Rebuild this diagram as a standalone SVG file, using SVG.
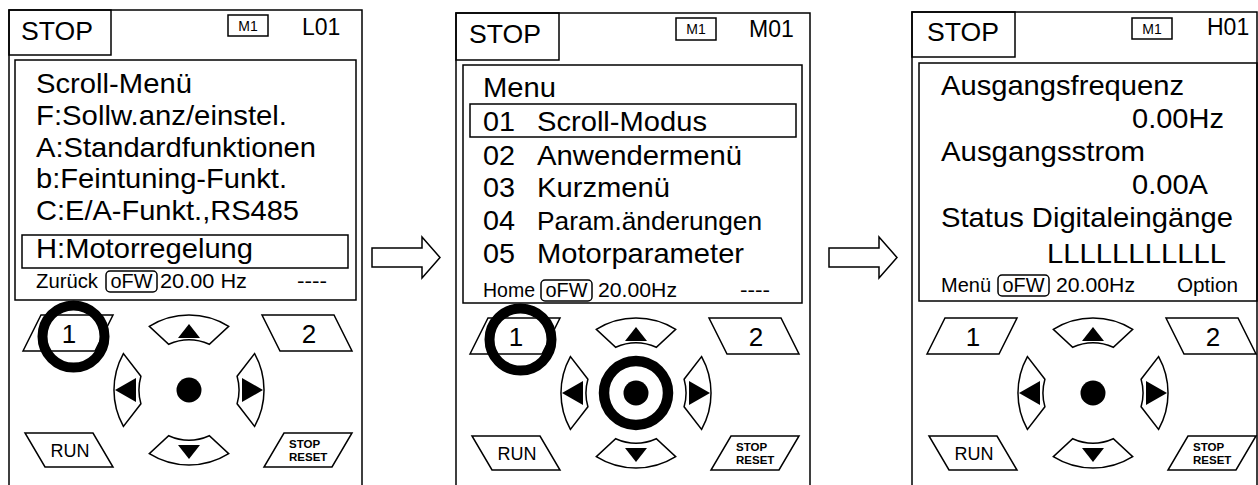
<svg xmlns="http://www.w3.org/2000/svg" width="1258" height="485" viewBox="0 0 1258 485">
<style>
.ln{fill:none;stroke:#000;stroke-width:1.5}
.bx{fill:#fff;stroke:#000;stroke-width:1.5}
.tx{font-family:"Liberation Sans",Arial,Helvetica,sans-serif;fill:#000}
.hd{font-size:26px}
.id{font-size:23px}
.m1{font-size:14px}
.sc{font-size:28px}
.sm{font-size:25px}
.ft{font-size:20px}
.key{font-size:26px}
.run{font-size:18px}
.sr{font-size:11.5px;font-weight:bold}
.ring{fill:none;stroke:#000;stroke-width:10}
.dot{fill:#000}
.arr{fill:#fff;stroke:#000;stroke-width:1.5;stroke-linejoin:miter}
</style>
<rect width="1258" height="485" fill="#fff"/>

<!-- ============ PANEL 1 ============ -->
<g id="panel1">
  <path class="ln" d="M9,485 V10 H362 V485"/>
  <rect class="ln" x="9" y="10" width="102" height="45"/>
  <text class="tx hd" x="21" y="40" textLength="72" lengthAdjust="spacingAndGlyphs">STOP</text>
  <rect class="ln" x="228" y="15" width="40" height="21"/>
  <text class="tx m1" x="248" y="31" text-anchor="middle">M1</text>
  <text class="tx id" x="302" y="35">L01</text>
  <rect class="ln" x="15" y="60" width="341" height="240"/>
  <text class="tx sc" x="36" y="93" textLength="156" lengthAdjust="spacingAndGlyphs">Scroll-Menü</text>
  <text class="tx sc" x="36" y="125" textLength="251" lengthAdjust="spacingAndGlyphs">F:Sollw.anz/einstel.</text>
  <text class="tx sc" x="36" y="157" textLength="280" lengthAdjust="spacingAndGlyphs">A:Standardfunktionen</text>
  <text class="tx sc" x="36" y="188" textLength="251" lengthAdjust="spacingAndGlyphs">b:Feintuning-Funkt.</text>
  <text class="tx sc" x="36" y="220" textLength="263" lengthAdjust="spacingAndGlyphs">C:E/A-Funkt.,RS485</text>
  <rect class="ln" x="22" y="235" width="326" height="33"/>
  <text class="tx sc" x="36" y="258" textLength="217" lengthAdjust="spacingAndGlyphs">H:Motorregelung</text>
  <text class="tx ft" x="36" y="288" textLength="62" lengthAdjust="spacingAndGlyphs">Zurück</text>
  <rect class="ln" x="106" y="271" width="51" height="21" rx="4"/>
  <text class="tx ft" x="131.5" y="288" text-anchor="middle" textLength="42" lengthAdjust="spacingAndGlyphs">oFW</text>
  <text class="tx ft" x="160" y="288" textLength="87" lengthAdjust="spacingAndGlyphs">20.00 Hz</text>
  <text class="tx ft" x="297" y="288" textLength="30" lengthAdjust="spacingAndGlyphs">----</text>
  <g id="keypad1">
    <polygon class="bx" points="23,351 41,315 113,315 95,351"/>
    <text class="tx key" x="69" y="343" text-anchor="middle">1</text>
    <polygon class="bx" points="262,315 334,315 352,351 280,351"/>
    <text class="tx key" x="309" y="343" text-anchor="middle">2</text>
    <path class="bx" d="M149.3,326.4 A75,75 0 0 1 228.7,326.4 L209.3,344.3 A50,50 0 0 0 168.7,344.3 Z"/>
    <polygon class="dot" points="189,324 178,338 200,338"/>
    <path class="bx" d="M149.3,453.6 A75,75 0 0 0 228.7,453.6 L209.3,435.7 A50,50 0 0 1 168.7,435.7 Z"/>
    <polygon class="dot" points="189,459 178,445 200,445"/>
    <path class="bx" d="M123.4,353.6 A75,75 0 0 0 123.4,426.4 L140.9,403.8 A50,50 0 0 1 140.9,376.2 Z"/>
    <polygon class="dot" points="115,390 136,378 136,402"/>
    <path class="bx" d="M254.6,353.6 A75,75 0 0 1 254.6,426.4 L237.1,403.8 A50,50 0 0 0 237.1,376.2 Z"/>
    <polygon class="dot" points="263,390 242,378 242,402"/>
    <circle class="dot" cx="189" cy="390" r="12.5"/>
    <polygon class="bx" points="25,433 93,433 113,467 45,467"/>
    <text class="tx run" x="70" y="457" text-anchor="middle">RUN</text>
    <polygon class="bx" points="284,433 352,433 332,467 264,467"/>
    <text class="tx sr" x="289" y="448">STOP</text>
    <text class="tx sr" x="289" y="461">RESET</text>
  </g>
  <circle class="ring" cx="73.5" cy="336.5" r="31"/>
</g>

<!-- ============ PANEL 2 ============ -->
<g id="panel2">
  <path class="ln" d="M456,485 V13 H810 V485"/>
  <rect class="ln" x="456" y="13" width="103" height="47"/>
  <text class="tx hd" x="469" y="43" textLength="72" lengthAdjust="spacingAndGlyphs">STOP</text>
  <rect class="ln" x="676" y="18" width="40" height="22"/>
  <text class="tx m1" x="696" y="34" text-anchor="middle">M1</text>
  <text class="tx id" x="749" y="37">M01</text>
  <rect class="ln" x="463" y="65" width="339" height="238"/>
  <text class="tx sc" x="483" y="97" textLength="73" lengthAdjust="spacingAndGlyphs">Menu</text>
  <rect class="ln" x="470" y="104" width="326" height="33"/>
  <text class="tx sc" x="483" y="131" textLength="32" lengthAdjust="spacingAndGlyphs">01</text>
  <text class="tx sc" x="537" y="131" textLength="170" lengthAdjust="spacingAndGlyphs">Scroll-Modus</text>
  <text class="tx sc" x="483" y="165" textLength="32" lengthAdjust="spacingAndGlyphs">02</text>
  <text class="tx sc" x="537" y="165" textLength="205" lengthAdjust="spacingAndGlyphs">Anwendermenü</text>
  <text class="tx sc" x="483" y="197" textLength="32" lengthAdjust="spacingAndGlyphs">03</text>
  <text class="tx sc" x="537" y="197" textLength="133" lengthAdjust="spacingAndGlyphs">Kurzmenü</text>
  <text class="tx sc" x="483" y="230" textLength="32" lengthAdjust="spacingAndGlyphs">04</text>
  <text class="tx sm" x="537" y="230" textLength="225" lengthAdjust="spacingAndGlyphs">Param.änderungen</text>
  <text class="tx sc" x="483" y="263" textLength="32" lengthAdjust="spacingAndGlyphs">05</text>
  <text class="tx sc" x="537" y="263" textLength="207" lengthAdjust="spacingAndGlyphs">Motorparameter</text>
  <text class="tx ft" x="483" y="297" textLength="52" lengthAdjust="spacingAndGlyphs">Home</text>
  <rect class="ln" x="541" y="280" width="51" height="21" rx="4"/>
  <text class="tx ft" x="566.5" y="297" text-anchor="middle" textLength="42" lengthAdjust="spacingAndGlyphs">oFW</text>
  <text class="tx ft" x="598" y="297" textLength="79" lengthAdjust="spacingAndGlyphs">20.00Hz</text>
  <text class="tx ft" x="740" y="297" textLength="30" lengthAdjust="spacingAndGlyphs">----</text>
  <g id="keypad2" transform="translate(447,3)">
    <polygon class="bx" points="23,351 41,315 113,315 95,351"/>
    <text class="tx key" x="69" y="343" text-anchor="middle">1</text>
    <polygon class="bx" points="262,315 334,315 352,351 280,351"/>
    <text class="tx key" x="309" y="343" text-anchor="middle">2</text>
    <path class="bx" d="M149.3,326.4 A75,75 0 0 1 228.7,326.4 L209.3,344.3 A50,50 0 0 0 168.7,344.3 Z"/>
    <polygon class="dot" points="189,324 178,338 200,338"/>
    <path class="bx" d="M149.3,453.6 A75,75 0 0 0 228.7,453.6 L209.3,435.7 A50,50 0 0 1 168.7,435.7 Z"/>
    <polygon class="dot" points="189,459 178,445 200,445"/>
    <path class="bx" d="M123.4,353.6 A75,75 0 0 0 123.4,426.4 L140.9,403.8 A50,50 0 0 1 140.9,376.2 Z"/>
    <polygon class="dot" points="115,390 136,378 136,402"/>
    <path class="bx" d="M254.6,353.6 A75,75 0 0 1 254.6,426.4 L237.1,403.8 A50,50 0 0 0 237.1,376.2 Z"/>
    <polygon class="dot" points="263,390 242,378 242,402"/>
    <circle class="dot" cx="189" cy="390" r="12.5"/>
    <polygon class="bx" points="25,433 93,433 113,467 45,467"/>
    <text class="tx run" x="70" y="457" text-anchor="middle">RUN</text>
    <polygon class="bx" points="284,433 352,433 332,467 264,467"/>
    <text class="tx sr" x="289" y="448">STOP</text>
    <text class="tx sr" x="289" y="461">RESET</text>
    <circle class="ring" cx="73.5" cy="336.5" r="31"/>
    <circle class="ring" cx="189" cy="390" r="32" style="stroke-width:10.5"/>
  </g>
</g>

<!-- ============ PANEL 3 ============ -->
<g id="panel3">
  <path class="ln" d="M912,485 V12 H1257 V485"/>
  <rect class="ln" x="912" y="12" width="103" height="45"/>
  <text class="tx hd" x="927" y="41" textLength="72" lengthAdjust="spacingAndGlyphs">STOP</text>
  <rect class="ln" x="1132" y="18" width="40" height="21"/>
  <text class="tx m1" x="1152" y="34" text-anchor="middle">M1</text>
  <text class="tx id" x="1207" y="35">H01</text>
  <rect class="ln" x="919" y="63" width="338" height="238"/>
  <text class="tx sc" x="941" y="95" textLength="243" lengthAdjust="spacingAndGlyphs">Ausgangsfrequenz</text>
  <text class="tx sc" x="1132" y="128" textLength="92" lengthAdjust="spacingAndGlyphs">0.00Hz</text>
  <text class="tx sc" x="941" y="161" textLength="204" lengthAdjust="spacingAndGlyphs">Ausgangsstrom</text>
  <text class="tx sc" x="1132" y="194" textLength="76" lengthAdjust="spacingAndGlyphs">0.00A</text>
  <text class="tx sc" x="941" y="227" textLength="292" lengthAdjust="spacingAndGlyphs">Status Digitaleingänge</text>
  <text class="tx sc" x="1047" y="263" textLength="179" lengthAdjust="spacingAndGlyphs">LLLLLLLLLLL</text>
  <text class="tx ft" x="941" y="292" textLength="50" lengthAdjust="spacingAndGlyphs">Menü</text>
  <rect class="ln" x="998" y="275" width="51" height="21" rx="4"/>
  <text class="tx ft" x="1023.5" y="292" text-anchor="middle" textLength="42" lengthAdjust="spacingAndGlyphs">oFW</text>
  <text class="tx ft" x="1056" y="292" textLength="79" lengthAdjust="spacingAndGlyphs">20.00Hz</text>
  <text class="tx ft" x="1177" y="292" textLength="61" lengthAdjust="spacingAndGlyphs">Option</text>
  <g id="keypad3" transform="translate(904,3)">
    <polygon class="bx" points="23,351 41,315 113,315 95,351"/>
    <text class="tx key" x="69" y="343" text-anchor="middle">1</text>
    <polygon class="bx" points="262,315 334,315 352,351 280,351"/>
    <text class="tx key" x="309" y="343" text-anchor="middle">2</text>
    <path class="bx" d="M149.3,326.4 A75,75 0 0 1 228.7,326.4 L209.3,344.3 A50,50 0 0 0 168.7,344.3 Z"/>
    <polygon class="dot" points="189,324 178,338 200,338"/>
    <path class="bx" d="M149.3,453.6 A75,75 0 0 0 228.7,453.6 L209.3,435.7 A50,50 0 0 1 168.7,435.7 Z"/>
    <polygon class="dot" points="189,459 178,445 200,445"/>
    <path class="bx" d="M123.4,353.6 A75,75 0 0 0 123.4,426.4 L140.9,403.8 A50,50 0 0 1 140.9,376.2 Z"/>
    <polygon class="dot" points="115,390 136,378 136,402"/>
    <path class="bx" d="M254.6,353.6 A75,75 0 0 1 254.6,426.4 L237.1,403.8 A50,50 0 0 0 237.1,376.2 Z"/>
    <polygon class="dot" points="263,390 242,378 242,402"/>
    <circle class="dot" cx="189" cy="390" r="12.5"/>
    <polygon class="bx" points="25,433 93,433 113,467 45,467"/>
    <text class="tx run" x="70" y="457" text-anchor="middle">RUN</text>
    <polygon class="bx" points="284,433 352,433 332,467 264,467"/>
    <text class="tx sr" x="289" y="448">STOP</text>
    <text class="tx sr" x="289" y="461">RESET</text>
  </g>
</g>

<!-- ============ CONNECTORS ============ -->
<g id="connectors">
  <polygon class="arr" points="372,248 422,248 422,237 440,257.5 422,278 422,267 372,267"/>
  <polygon class="arr" points="829,248 879,248 879,237 897,257.5 879,278 879,267 829,267"/>
</g>
</svg>
